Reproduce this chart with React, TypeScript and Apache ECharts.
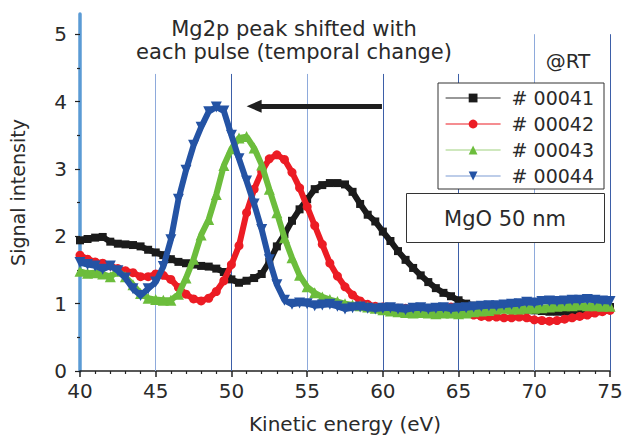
import React, { useEffect, useRef } from "react";
import * as echarts from "echarts";

const energy = [
  40, 40.5, 41, 41.5, 42, 42.5, 43, 43.5, 44, 44.5, 45, 45.5, 46, 46.5, 47, 47.5, 48, 48.5, 49, 49.5,
  50, 50.5, 51, 51.5, 52, 52.5, 53, 53.5, 54, 54.5, 55, 55.5, 56, 56.5, 57, 57.5, 58, 58.5, 59, 59.5,
  60, 60.5, 61, 61.5, 62, 62.5, 63, 63.5, 64, 64.5, 65, 65.5, 66, 66.5, 67, 67.5, 68, 68.5, 69, 69.5,
  70, 70.5, 71, 71.5, 72, 72.5, 73, 73.5, 74, 74.5, 75,
];

const s00041 = [
  1.94, 1.96, 1.98, 1.99, 1.92, 1.89, 1.88, 1.87, 1.85, 1.8, 1.76, 1.72, 1.66, 1.62, 1.6, 1.58, 1.56, 1.55, 1.52, 1.47,
  1.36, 1.31, 1.34, 1.38, 1.44, 1.62, 1.85, 2.03, 2.23, 2.4, 2.55, 2.7, 2.76, 2.79, 2.79, 2.77, 2.66, 2.48, 2.32, 2.22,
  2.07, 1.93, 1.78, 1.65, 1.53, 1.42, 1.32, 1.23, 1.16, 1.11, 1.05, 1.0, 0.97, 0.96, 0.96, 0.95, 0.94, 0.93, 0.92, 0.91,
  0.9, 0.89, 0.88, 0.88, 0.88, 0.89, 0.91, 0.92, 0.93, 0.94, 0.95,
];

const s00042 = [
  1.72, 1.66, 1.62, 1.6, 1.56, 1.52, 1.49, 1.46, 1.4, 1.4, 1.44, 1.42, 1.36, 1.24, 1.14, 1.07, 1.04, 1.08, 1.18, 1.34,
  1.58, 1.86, 2.35, 2.7, 2.96, 3.15, 3.21, 3.14, 2.95, 2.72, 2.44, 2.16, 1.88, 1.6, 1.41, 1.25, 1.13, 1.04, 0.99, 0.96,
  0.95, 0.94, 0.93, 0.93, 0.92, 0.92, 0.91, 0.92, 0.94, 0.95, 0.91, 0.87, 0.83, 0.81, 0.8, 0.8, 0.79, 0.79, 0.8, 0.79,
  0.76, 0.75, 0.74, 0.75, 0.77, 0.79, 0.81, 0.83, 0.86, 0.88, 0.9,
];

const s00043 = [
  1.48, 1.45, 1.46, 1.44, 1.4, 1.48, 1.4, 1.28, 1.15, 1.08, 1.06, 1.05, 1.05, 1.14, 1.38, 1.66, 2.02, 2.25, 2.62, 3.05,
  3.3, 3.46, 3.48, 3.31, 3.06, 2.7, 2.35, 1.98, 1.68, 1.42, 1.25, 1.16, 1.1, 1.06, 1.03, 1.0, 0.98, 0.97, 0.95, 0.93,
  0.91, 0.89, 0.88, 0.87, 0.86, 0.87, 0.86, 0.85, 0.86, 0.86, 0.85, 0.86, 0.88, 0.89, 0.9, 0.92, 0.93, 0.92, 0.92, 0.93,
  0.93, 0.94, 0.95, 0.96, 0.97, 0.97, 0.98, 0.97, 0.97, 0.96, 0.96,
];

const s00044 = [
  1.61, 1.58, 1.56, 1.51, 1.56, 1.49, 1.38, 1.22, 1.12, 1.22, 1.32, 1.55, 1.95, 2.55, 2.98, 3.35, 3.62, 3.85, 3.92, 3.86,
  3.5, 3.15, 2.82, 2.48, 2.1, 1.65, 1.28, 1.05, 0.99, 1.01, 1.0, 0.97, 0.98, 0.99, 0.96, 0.92, 0.94, 0.95, 0.93, 0.92,
  0.93, 0.94, 0.92, 0.91, 0.93, 0.94, 0.92, 0.93, 0.94, 0.92, 0.93, 0.94, 0.95, 0.96, 0.97, 0.97, 0.98, 0.99, 1.0, 1.02,
  1.01, 1.03, 1.04, 1.03, 1.04, 1.05, 1.05, 1.06, 1.05, 1.04, 1.03,
];

const seriesNames = ["# 00041", "# 00042", "# 00043", "# 00044"];
const xTicks = [40, 45, 50, 55, 60, 65, 70, 75];
const yMajor = [0, 1, 2, 3, 4, 5];
const yMinor = [0.5, 1.5, 2.5, 3.5, 4.5];
const gridX = [45, 50, 55, 60, 65, 70, 75];
const gridTop = [4.41, 4.41, 4.41, 4.41, 4.41, 5, 5];
const gridLight = [true, false, true, false, false, true, false];

const FONT = '"DejaVu Sans", "Noto Sans", sans-serif';
const TXT = "#2a2a2a";

export default function App() {
  const ref = useRef<HTMLDivElement>(null);
  useEffect(() => {
    if (!ref.current) return;
    const chart = echarts.init(ref.current, null, { renderer: "svg" });
    const pair = (a: number[]) => energy.map((x, i) => [x, a[i]]);
    const colors = ["#1b1b1b", "#ec1c24", "#6cbd3c", "#2453a4"];
    const legendLine = ["#333333", "#ec1c24", "#9fd27e", "#7c9bd4"];
    const symbols = ["rect", "circle", "triangle", "triangle"];
    const sizes = [8, 9, 11, 11];
    const datas = [s00041, s00042, s00043, s00044];

    const series: any[] = [
      {
        type: "line",
        name: "grid",
        data: [],
        z: 1,
        silent: true,
        markLine: {
          silent: true,
          z: 1,
          symbol: ["none", "none"],
          label: { show: false },
          data: gridX.map((x, i) => [
            {
              coord: [x, 0],
              lineStyle: { color: gridLight[i] ? "#8eaadb" : "#3d5fa8", width: 1, type: "solid" },
            },
            { coord: [x, gridTop[i]] },
          ]),
        },
      },
      ...datas.map((d, i) => ({
        type: "line",
        name: seriesNames[i],
        data: pair(d),
        z: 3 + i,
        symbol: symbols[i],
        symbolSize: sizes[i],
        symbolRotate: i === 3 ? 180 : 0,
        showAllSymbol: true,
        color: colors[i],
        lineStyle: { color: colors[i], width: 6 },
        itemStyle: { color: colors[i] },
      })),
    ];
    series[1].markLine = {
      silent: true,
      symbol: ["none", "triangle"],
      symbolSize: [13, 15],
      label: { show: false },
      lineStyle: { color: "#1e1e1e", width: 5, type: "solid" },
      data: [[{ coord: [59.94, 3.93] }, { coord: [51.5, 3.93] }]],
    };

    chart.setOption({
      animation: false,
      backgroundColor: "#ffffff",
      textStyle: { fontFamily: FONT },
      grid: { left: 80, right: 16, top: 14, bottom: 67 },
      xAxis: {
        type: "value",
        min: 40,
        max: 75,
        interval: 5,
        name: "Kinetic energy (eV)",
        nameLocation: "middle",
        nameGap: 43,
        nameTextStyle: { fontSize: 20, color: TXT, fontFamily: FONT },
        axisLine: { lineStyle: { color: "#222", width: 1.5 } },
        axisTick: { length: 6, lineStyle: { color: "#222", width: 1.5 } },
        minorTick: { show: true, splitNumber: 5, length: 3, lineStyle: { color: "#222", width: 1.2 } },
        splitLine: { show: false },
        axisLabel: { fontSize: 20, color: TXT, margin: 10, fontFamily: FONT, customValues: xTicks },
      },
      yAxis: [
        {
          type: "value",
          min: 0,
          max: 5.3,
          interval: 1,
          name: "Signal intensity",
          nameLocation: "middle",
          nameGap: 53,
          nameTextStyle: { fontSize: 19, color: TXT, fontFamily: FONT },
          axisLine: { show: true, lineStyle: { color: "#5b9bd5", width: 3.5 } },
          axisTick: { show: true, customValues: yMajor, length: 5, lineStyle: { color: "#222", width: 1.2 } },
          splitLine: { show: false },
          axisLabel: { fontSize: 20, color: TXT, margin: 13, fontFamily: FONT, customValues: yMajor },
        },
        {
          type: "value",
          min: 0,
          max: 5.3,
          position: "left",
          axisLine: { show: false },
          axisTick: { show: true, customValues: yMinor, length: 3, lineStyle: { color: "#222", width: 1.2 } },
          axisLabel: { show: false },
          splitLine: { show: false },
        },
      ],
      legend: {
        orient: "vertical",
        left: 438,
        top: 83,
        padding: [5, 10, 3, 7],
        itemGap: 6,
        itemWidth: 55,
        itemHeight: 11,
        backgroundColor: "#ffffff",
        borderColor: "#333",
        borderWidth: 1,
        borderRadius: 0,
        textStyle: { fontSize: 19, lineHeight: 20, color: TXT, fontFamily: FONT, padding: [0, 0, 0, 6] },
        data: seriesNames.map((n, i) => ({
          name: n,
          lineStyle: { color: legendLine[i], width: 1.2 },
        })),
        selectedMode: false,
      },
      graphic: [
        {
          type: "text",
          x: 294,
          y: 17,
          style: {
            text: "Mg2p peak shifted with\neach pulse (temporal change)",
            lineHeight: 23,
            fill: TXT,
            align: "center",
            verticalAlign: "top",
            font: `21px ${FONT}`,
          },
          z: 10,
        },
        {
          type: "text",
          x: 568,
          y: 61,
          style: {
            text: "@RT",
            fill: TXT,
            align: "center",
            verticalAlign: "middle",
            font: `20px ${FONT}`,
          },
          z: 10,
        },
        {
          type: "group",
          z: 10,
          children: [
            {
              type: "rect",
              shape: { x: 406.5, y: 193.5, width: 198, height: 49 },
              style: { fill: "#ffffff", stroke: "#333", lineWidth: 1 },
              z: 10,
            },
            {
              type: "text",
              x: 505,
              y: 219,
              style: {
                text: "MgO 50 nm",
                fill: TXT,
                align: "center",
                verticalAlign: "middle",
                font: `21px ${FONT}`,
              },
              z: 11,
            },
          ],
        },
      ],
      series,
    });
    return () => chart.dispose();
  }, []);
  return (
    <div
      ref={ref}
      style={{ position: "fixed", left: 0, top: 0, width: 626, height: 439, background: "#fff" }}
    />
  );
}
